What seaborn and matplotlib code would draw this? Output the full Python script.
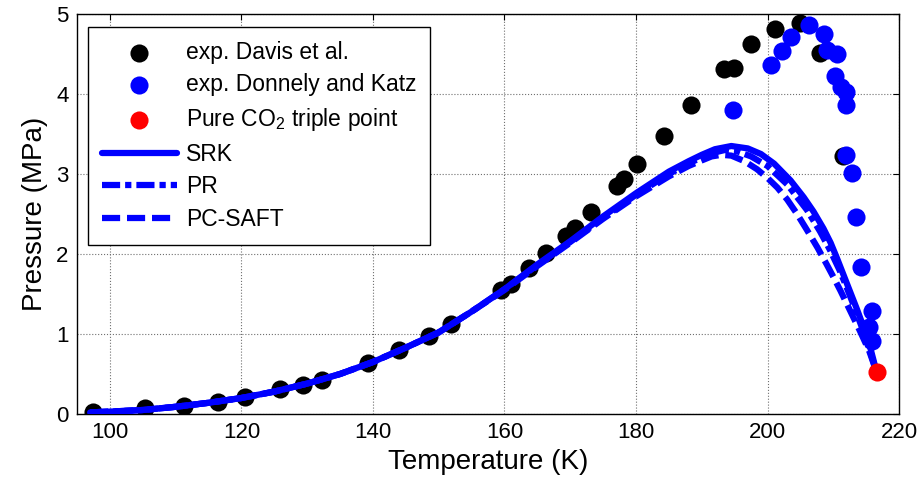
import seaborn as sns
import matplotlib.pyplot as plt

T_davis = [97.5, 105.3, 111.2, 116.4, 120.6, 125.8, 129.3, 132.3, 139.3, 143.9,
           148.5, 151.8, 159.4, 161.0, 163.8, 166.3, 169.4, 170.7, 173.1, 177.1,
           178.2, 180.2, 184.2, 188.4, 193.4, 194.9, 197.5, 201.2, 205.0, 208.0, 211.5]
P_davis = [0.03, 0.07, 0.10, 0.15, 0.21, 0.31, 0.36, 0.42, 0.64, 0.80,
           0.98, 1.13, 1.55, 1.62, 1.82, 2.01, 2.23, 2.33, 2.52, 2.85,
           2.94, 3.13, 3.48, 3.86, 4.31, 4.33, 4.62, 4.81, 4.89, 4.51, 3.23]

T_donnely = [194.7, 200.5, 202.2, 203.5, 206.3, 208.6, 209.1, 210.5, 210.2, 211.1,
             211.9, 211.9, 211.9, 212.9, 213.5, 214.2, 215.9, 215.4, 215.9]
P_donnely = [3.80, 4.36, 4.54, 4.71, 4.86, 4.75, 4.55, 4.50, 4.23, 4.09,
             4.03, 3.86, 3.24, 3.01, 2.46, 1.84, 1.29, 1.09, 0.91]

T_triple = [216.6]
P_triple = [0.52]

# model curves
T_srk = [97, 100, 105, 110, 115, 120, 125, 130, 135, 140, 145, 150, 155, 160, 165,
         170, 175, 180, 185, 188, 190, 192, 194.5, 197, 199, 201, 203.5, 205.5, 207,
         208.5, 209.6, 210.6, 211.6, 212.6, 213.6, 214.5, 215.4, 216.6]
P_srk = [0.02, 0.03, 0.05, 0.09, 0.14, 0.20, 0.28, 0.38, 0.50, 0.65, 0.83, 1.02, 1.28, 1.56, 1.87,
         2.16, 2.47, 2.76, 3.03, 3.16, 3.24, 3.31, 3.35, 3.32, 3.25, 3.13, 2.92, 2.71, 2.53,
         2.32, 2.14, 1.94, 1.73, 1.52, 1.31, 1.11, 0.90, 0.52]

T_pr = [97, 100, 105, 110, 115, 120, 125, 130, 135, 140, 145, 150, 155, 160, 165,
        170, 175, 180, 185, 188, 190, 192, 193.5, 195.5, 197.5, 200, 203, 206, 208,
        209.5, 211, 212, 213, 214, 215, 216.6]
P_pr = [0.02, 0.03, 0.05, 0.09, 0.14, 0.20, 0.28, 0.38, 0.50, 0.65, 0.83, 1.02, 1.28, 1.56, 1.86,
        2.15, 2.45, 2.74, 3.00, 3.13, 3.21, 3.27, 3.30, 3.28, 3.22, 3.10, 2.87, 2.55, 2.28,
        2.05, 1.79, 1.59, 1.38, 1.16, 0.94, 0.52]

T_saft = [97, 100, 105, 110, 115, 120, 125, 130, 135, 140, 145, 150, 155, 160, 165,
          170, 175, 180, 185, 188, 190, 191.5, 193, 194.5, 196.5, 198.4, 200, 201.5, 203,
          204.5, 206, 207.6, 209, 210.1, 211.1, 212.1, 213.1, 214.1, 215.5, 216.6]
P_saft = [0.02, 0.03, 0.05, 0.09, 0.14, 0.20, 0.28, 0.38, 0.50, 0.65, 0.83, 1.02, 1.28, 1.55, 1.85,
          2.14, 2.44, 2.72, 2.97, 3.10, 3.17, 3.22, 3.24, 3.23, 3.16, 3.06, 2.95, 2.83, 2.68,
          2.50, 2.30, 2.08, 1.87, 1.70, 1.54, 1.37, 1.20, 1.03, 0.78, 0.52]

sns.set_style('whitegrid')
plt.rcParams['font.family'] = ['Liberation Sans', 'DejaVu Sans']
plt.rcParams['mathtext.fontset'] = 'custom'
plt.rcParams['mathtext.rm'] = 'Liberation Sans'
plt.rcParams['mathtext.it'] = 'Liberation Sans:italic'
plt.rcParams['text.color'] = 'black'
plt.rcParams['axes.labelcolor'] = 'black'

fig = plt.figure(figsize=(9.22, 4.9), dpi=100)
ax = fig.add_axes([0.0835, 0.1551, 0.8916, 0.8163])

blue = '#0000ff'
lw = 4.5

sns.scatterplot(x=T_davis, y=P_davis, color='black', s=170, linewidth=0,
                label='exp. Davis et al.', ax=ax, zorder=2)
sns.scatterplot(x=T_donnely, y=P_donnely, color=blue, s=170, linewidth=0,
                label='exp. Donnely and Katz', ax=ax, zorder=2.5)
sns.scatterplot(x=T_triple, y=P_triple, color='red', s=170, linewidth=0,
                label=r'Pure CO$_\mathregular{2}$ triple point', ax=ax, zorder=5)

sns.lineplot(x=T_srk, y=P_srk, color=blue, lw=lw, label='SRK',
             estimator=None, sort=False, ax=ax, zorder=3)
sns.lineplot(x=T_pr, y=P_pr, color=blue, lw=lw, label='PR',
             linestyle=(0, (2.9, 0.8, 1.0, 0.8)),
             estimator=None, sort=False, ax=ax, zorder=3)
sns.lineplot(x=T_saft, y=P_saft, color=blue, lw=lw, label='PC-SAFT',
             linestyle=(0, (2.9, 1.1)),
             estimator=None, sort=False, ax=ax, zorder=3)

ax.set_xlim(95, 220)
ax.set_ylim(0, 5)
ax.set_xticks([100, 120, 140, 160, 180, 200, 220])
ax.set_yticks([0, 1, 2, 3, 4, 5])

ax.grid(True, color='#707070', linestyle=':', linewidth=0.8)
ax.set_facecolor('white')
for sp in ax.spines.values():
    sp.set_color('black')
    sp.set_linewidth(1.0)

ax.tick_params(direction='in', length=4, width=0.8, colors='black',
               top=True, right=True, labelsize=16, pad=6)

ax.set_xlabel('Temperature (K)', fontsize=20, labelpad=4)
ax.set_ylabel('Pressure (MPa)', fontsize=20, labelpad=6)

leg = ax.legend(loc='upper left', bbox_to_anchor=(0.0134, 0.9675), borderaxespad=0,
                fontsize=16.5, frameon=True, fancybox=False, framealpha=1,
                edgecolor='black', handlelength=3.27, handletextpad=0.4,
                borderpad=0.6, labelspacing=0.42)
leg.get_frame().set_linewidth(1.0)

fig.savefig('out.png', dpi=100)
